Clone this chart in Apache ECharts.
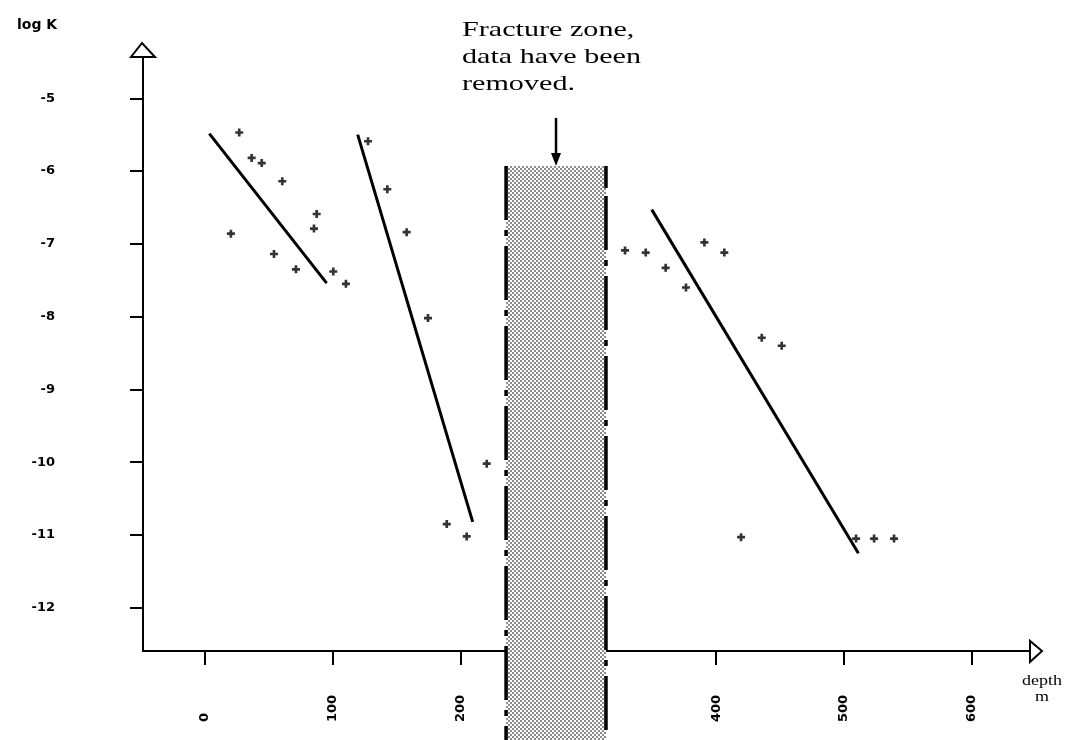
<!DOCTYPE html>
<html>
<head>
<meta charset="utf-8">
<title>log K versus depth</title>
<script src="https://cdn.jsdelivr.net/npm/echarts@6/dist/echarts.min.js"></script>
<style>
  html, body { margin: 0; padding: 0; background: #fff; }
  #chart { width: 1087px; height: 740px; }
</style>
</head>
<body>
<div id="chart"></div>
<script>
// Measured hydraulic conductivity (log K) against borehole depth (m)
const pointsUpper = [
  [26.8, -5.47], [36.5, -5.82], [44.4, -5.89], [60.5, -6.14], [87.4, -6.59],
  [85.3, -6.79], [20.3, -6.86], [54.0, -7.14], [71.2, -7.35], [100.4, -7.38],
  [110.3, -7.55]
];
const pointsMiddle = [
  [127.6, -5.59], [142.7, -6.25], [157.8, -6.84], [174.5, -8.02],
  [189.2, -10.85], [204.8, -11.02], [220.5, -10.02]
];
const pointsLower = [
  [328.7, -7.09], [344.9, -7.12], [360.5, -7.33], [376.4, -7.60], [390.8, -6.98],
  [406.4, -7.12], [435.7, -8.29], [451.3, -8.40], [419.5, -11.03],
  [509.5, -11.05], [523.6, -11.05], [539.2, -11.05]
];

// Fitted trend lines, one per depth section
const trendUpper = [[3.4, -5.485], [95.2, -7.54]];
const trendMiddle = [[119.5, -5.50], [209.5, -10.82]];
const trendLower = [[349.6, -6.53], [511.3, -11.25]];

// Fracture zone: depth from, depth to, top log K, bottom (below the axis)
const fractureZone = [[235.6, 313.8, -5.93, -13.9]];

const xTickValues = [0, 100, 200, 400, 500, 600];
const yTickValues = [-5, -6, -7, -8, -9, -10, -11, -12];
const xRange = [-48.5, 645.6];
const yRange = [-12.594, -4.433];

const annotation = 'Fracture zone,\ndata have been\nremoved.';

// halftone dot fill for the fracture zone
function dotPattern() {
  const c = document.createElement('canvas');
  c.width = 4; c.height = 4;
  const g = c.getContext('2d');
  g.fillStyle = '#ffffff';
  g.fillRect(0, 0, 4, 4);
  g.fillStyle = '#8c8c8c';
  g.fillRect(0, 0, 2, 2);
  g.fillRect(2, 2, 2, 2);
  return { image: c, repeat: 'repeat' };
}
const zoneFill = dotPattern();

const plusMark = 'path://M2,0H4V2H6V4H4V6H2V4H0V2H2Z';
const tickFont = { fontFamily: 'DejaVu Sans', fontWeight: 'bold', fontSize: 13, color: '#000' };

const chart = echarts.init(document.getElementById('chart'), null, { renderer: 'canvas' });

function scatterSeries(data) {
  return {
    type: 'scatter', data: data, symbol: plusMark, symbolSize: 8,
    itemStyle: { color: '#000' }, z: 3, silent: true
  };
}
function trendSeries(data) {
  return {
    type: 'line', data: data, showSymbol: false, symbol: 'none',
    lineStyle: { color: '#000', width: 3 }, z: 3, silent: true
  };
}

chart.setOption({
  animation: false,
  backgroundColor: '#fff',
  title: {
    text: 'log K', left: 12, top: 13,
    textStyle: { fontFamily: 'DejaVu Sans', fontWeight: 'bold', fontSize: 14, color: '#000' }
  },
  grid: { left: 143, right: 57, top: 57, bottom: 89, containLabel: false },
  xAxis: {
    type: 'value', min: xRange[0], max: xRange[1],
    splitLine: { show: false },
    axisLine: { show: true, onZero: false, lineStyle: { color: '#000', width: 2 } },
    axisTick: { show: true, customValues: xTickValues, length: 14, lineStyle: { color: '#000', width: 2 } },
    axisLabel: Object.assign({
      customValues: xTickValues, rotate: 90, align: 'left', verticalAlign: 'middle', margin: 71
    }, tickFont)
  },
  yAxis: {
    type: 'value', min: yRange[0], max: yRange[1],
    splitLine: { show: false },
    axisLine: { show: true, onZero: false, lineStyle: { color: '#000', width: 2 } },
    axisTick: { show: true, customValues: yTickValues, length: 13, lineStyle: { color: '#000', width: 2 } },
    axisLabel: Object.assign({ customValues: yTickValues, margin: 88 }, tickFont)
  },
  series: [
    scatterSeries(pointsUpper),
    scatterSeries(pointsMiddle),
    scatterSeries(pointsLower),
    trendSeries(trendUpper),
    trendSeries(trendMiddle),
    trendSeries(trendLower),
    {
      type: 'custom', data: fractureZone, clip: false, z: 5, silent: true,
      renderItem: function (params, api) {
        const a = api.coord([api.value(0), api.value(2)]);
        const b = api.coord([api.value(1), api.value(3)]);
        const edge = { stroke: '#000', lineWidth: 3.5, lineDash: [54, 10, 6, 10], fill: null };
        return {
          type: 'group',
          children: [
            { type: 'rect', shape: { x: a[0], y: a[1], width: b[0] - a[0], height: b[1] - a[1] },
              style: { fill: zoneFill, stroke: null } },
            { type: 'line', shape: { x1: a[0], y1: a[1], x2: a[0], y2: b[1] }, style: edge },
            { type: 'line', shape: { x1: b[0], y1: a[1] + 30, x2: b[0], y2: b[1] }, style: edge },
            { type: 'line', shape: { x1: b[0], y1: a[1], x2: b[0], y2: a[1] + 22 },
              style: { stroke: '#000', lineWidth: 3.5, fill: null } }
          ]
        };
      }
    }
  ]
});

// axis arrowheads, the annotation and its arrow, placed from the axis scales
const yEnd = chart.convertToPixel({ gridIndex: 0 }, [xRange[0], yRange[1]]);
const xEnd = chart.convertToPixel({ gridIndex: 0 }, [xRange[1], yRange[0]]);
const zoneMid = (fractureZone[0][0] + fractureZone[0][1]) / 2;
const zoneTop = chart.convertToPixel({ gridIndex: 0 }, [zoneMid, fractureZone[0][2]]);

const openArrow = { fill: '#fff', stroke: '#000', lineWidth: 2 };

chart.setOption({
  graphic: [
    { type: 'polygon', z: 10, silent: true,
      shape: { points: [[yEnd[0] - 12, yEnd[1]], [yEnd[0] + 12, yEnd[1]], [yEnd[0] - 1, yEnd[1] - 14]] },
      style: openArrow },
    { type: 'polygon', z: 10, silent: true,
      shape: { points: [[xEnd[0], xEnd[1] - 10], [xEnd[0], xEnd[1] + 11], [xEnd[0] + 12, xEnd[1]]] },
      style: openArrow },
    { type: 'text', z: 10, silent: true, x: xEnd[0] + 12, y: xEnd[1] + 22, scaleX: 1.2,
      style: { text: 'depth\nm', fill: '#000', font: '15px "Liberation Serif"',
               align: 'center', lineHeight: 16 } },
    { type: 'text', z: 10, silent: true, x: 462, y: 17, scaleX: 1.37,
      style: { text: annotation, fill: '#000', font: '22px "Liberation Serif"', lineHeight: 27 } },
    { type: 'line', z: 10, silent: true,
      shape: { x1: zoneTop[0], y1: zoneTop[1] - 48, x2: zoneTop[0], y2: zoneTop[1] - 10 },
      style: { stroke: '#000', lineWidth: 2.5 } },
    { type: 'polygon', z: 10, silent: true,
      shape: { points: [[zoneTop[0] - 5, zoneTop[1] - 13], [zoneTop[0] + 5, zoneTop[1] - 13], [zoneTop[0], zoneTop[1]]] },
      style: { fill: '#000' } }
  ]
});
</script>
</body>
</html>
